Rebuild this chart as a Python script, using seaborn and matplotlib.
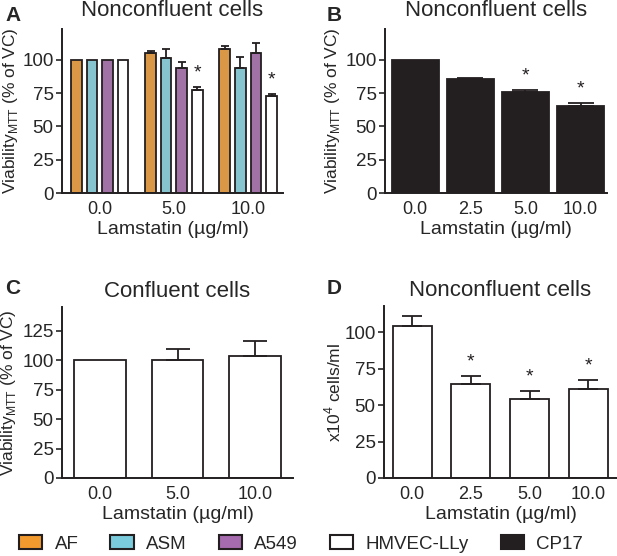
import pandas as pd
import matplotlib
matplotlib.use('Agg')
import matplotlib.pyplot as plt
from matplotlib.patches import Patch
import seaborn as sns

# Panel A: nonconfluent cells, four cell types
doses_a = ['0.0', '5.0', '10.0']
cell_types = ['AF', 'ASM', 'A549', 'HMVEC-LLy']
viab_a = {
    'AF': [100, 104.8, 108.2],
    'ASM': [100, 101.5, 94.0],
    'A549': [100, 93.8, 105.3],
    'HMVEC-LLy': [100, 77.5, 73.0],
}
err_a = {
    'AF': [0, 1.7, 2.0],
    'ASM': [0, 6.2, 8.2],
    'A549': [0, 4.7, 7.0],
    'HMVEC-LLy': [0, 2.0, 1.5],
}
sig_a = {'HMVEC-LLy': [False, True, True]}

# Panel B: CP17, nonconfluent
doses_b = ['0.0', '2.5', '5.0', '10.0']
viab_b = [100, 85.5, 75.8, 65.5]
err_b = [0, 0.7, 1.5, 2.2]
sig_b = [False, False, True, True]

# Panel C: confluent cells
doses_c = ['0.0', '5.0', '10.0']
viab_c = [100, 100, 103.8]
err_c = [0, 9.4, 12.7]

# Panel D: cell counts
doses_d = ['0.0', '2.5', '5.0', '10.0']
count_d = [104.6, 64.5, 54.5, 61.3]
err_d = [6.4, 5.7, 5.0, 6.2]
sig_d = [False, True, True, True]

colors = {'AF': '#F39A2E', 'ASM': '#7ACCDC', 'A549': '#A66AAE',
          'HMVEC-LLy': '#FFFFFF', 'CP17': '#231F20'}

sns.set_style('ticks')
plt.rcParams['font.family'] = ['Liberation Sans', 'DejaVu Sans']
plt.rcParams['mathtext.fontset'] = 'custom'
plt.rcParams['mathtext.rm'] = 'Liberation Sans'

fig = plt.figure(figsize=(6.17, 5.56), dpi=100)
W, H = 617, 556


def add_ax(l, t, r, b):
    return fig.add_axes([l / W, 1 - b / H, (r - l) / W, (b - t) / H])


def add_err(ax, bars, errs, cap_frac=0.5):
    for bar, e in zip(bars, errs):
        if e <= 0:
            continue
        x = bar.get_x() + bar.get_width() / 2
        # cap length in points, as a fraction of the drawn bar width
        x0 = ax.transData.transform((bar.get_x(), 0))[0]
        x1 = ax.transData.transform((bar.get_x() + bar.get_width(), 0))[0]
        cap = (x1 - x0) * cap_frac * 72 / fig.dpi
        ax.errorbar(x, bar.get_height(), yerr=[[0], [e]], fmt='none',
                    ecolor='#231F20', elinewidth=1.3, capsize=cap / 2,
                    capthick=1.3, zorder=1)


def add_star(ax, bars, errs, sig, fs):
    for bar, e, s in zip(bars, errs, sig):
        if s:
            x = bar.get_x() + bar.get_width() / 2
            ax.annotate('*', xy=(x, bar.get_height() + e), xytext=(0, 4),
                        textcoords='offset points', ha='center', va='bottom',
                        fontsize=fs, color='#231F20')


def style(ax, title, ylabel, ylim, xlim, pad, ylab_x):
    ax.set_title(title, fontsize=16, pad=pad, y=1.0)
    ax.set_xlabel('Lamstatin (µg/ml)', fontsize=14, labelpad=2)
    ax.set_ylabel(ylabel, fontsize=12.5)
    ax.yaxis.set_label_coords(ylab_x, 0.5)
    ax.set_ylim(*ylim)
    ax.set_xlim(*xlim)
    ax.tick_params(axis='y', labelsize=13.5, length=4, width=1.2, pad=2)
    ax.tick_params(axis='x', labelsize=13, length=0, pad=6)
    for side in ['top', 'right']:
        ax.spines[side].set_visible(False)
    for side in ['left', 'bottom']:
        ax.spines[side].set_linewidth(1.4)
        ax.spines[side].set_color('#231F20')


ylab = 'Viability$_{\\mathregular{MTT}}$ (% of VC)'

# A
ax = add_ax(62, 29, 283, 193)
df_a = pd.DataFrame([(d, c, viab_a[c][i]) for c in cell_types for i, d in enumerate(doses_a)],
                    columns=['dose', 'cell', 'value'])
sns.barplot(data=df_a, x='dose', y='value', hue='cell', hue_order=cell_types,
            palette=colors, errorbar=None, width=0.84, gap=0.32,
            edgecolor='#231F20', linewidth=1.3, legend=False, ax=ax)
style(ax, 'Nonconfluent cells', ylab, (0, 123), (-0.51, 2.47), 9.4, -0.19)
ax.set_yticks([0, 25, 50, 75, 100])
for cont, c in zip(ax.containers, cell_types):
    add_err(ax, cont, err_a[c], 0.7)
    add_star(ax, cont, err_a[c], sig_a.get(c, [False] * 3), 14)

# B
ax = add_ax(385, 29, 607, 193)
df_b = pd.DataFrame({'dose': doses_b, 'value': viab_b})
sns.barplot(data=df_b, x='dose', y='value', color=colors['CP17'], errorbar=None,
            width=0.85, edgecolor='#231F20', linewidth=1.3, saturation=1, ax=ax)
style(ax, 'Nonconfluent cells', ylab, (0, 123), (-0.55, 3.48), 9.4, -0.194)
ax.set_yticks([0, 25, 50, 75, 100])
add_err(ax, ax.containers[0], err_b, 0.55)
add_star(ax, ax.containers[0], err_b, sig_b, 14)

# C
ax = add_ax(62, 307, 293, 478)
df_c = pd.DataFrame({'dose': doses_c, 'value': viab_c})
sns.barplot(data=df_c, x='dose', y='value', color='white', errorbar=None,
            width=0.67, edgecolor='#231F20', linewidth=1.3, saturation=1, ax=ax)
style(ax, 'Confluent cells', ylab, (0, 145), (-0.49, 2.49), 7.2, -0.19)
ax.set_yticks([0, 25, 50, 75, 100, 125])
add_err(ax, ax.containers[0], err_c, 0.47)

# D
ax = add_ax(384, 306, 617, 478)
df_d = pd.DataFrame({'dose': doses_d, 'value': count_d})
sns.barplot(data=df_d, x='dose', y='value', color='white', errorbar=None,
            width=0.665, edgecolor='#231F20', linewidth=1.3, saturation=1, ax=ax)
style(ax, 'Nonconfluent cells', 'x10$^{\\mathregular{4}}$ cells/ml', (0, 118), (-0.48, 3.49), 7.2, -0.176)
ax.set_yticks([0, 25, 50, 75, 100])
add_err(ax, ax.containers[0], err_d, 0.5)
add_star(ax, ax.containers[0], err_d, sig_d, 14)

# panel letters
for lab, x, y in [('A', 5, 6), ('B', 327, 6), ('C', 5, 279), ('D', 327, 279)]:
    fig.text(x / W, 1 - y / H, lab, fontsize=15, fontweight='bold', va='top', ha='left')

# legend
handles = [Patch(facecolor=colors[k], edgecolor='#231F20', linewidth=1.5, label=k)
           for k in ['AF', 'ASM', 'A549', 'HMVEC-LLy', 'CP17']]
fig.legend(handles=handles, loc='center', bbox_to_anchor=(301 / W, 1 - 544 / H), ncol=5,
           frameon=False, fontsize=13.5, handlelength=1.25, handleheight=0.7,
           handletextpad=0.65, columnspacing=1.7, borderaxespad=0, borderpad=0)

fig.savefig('out.png', dpi=100)
